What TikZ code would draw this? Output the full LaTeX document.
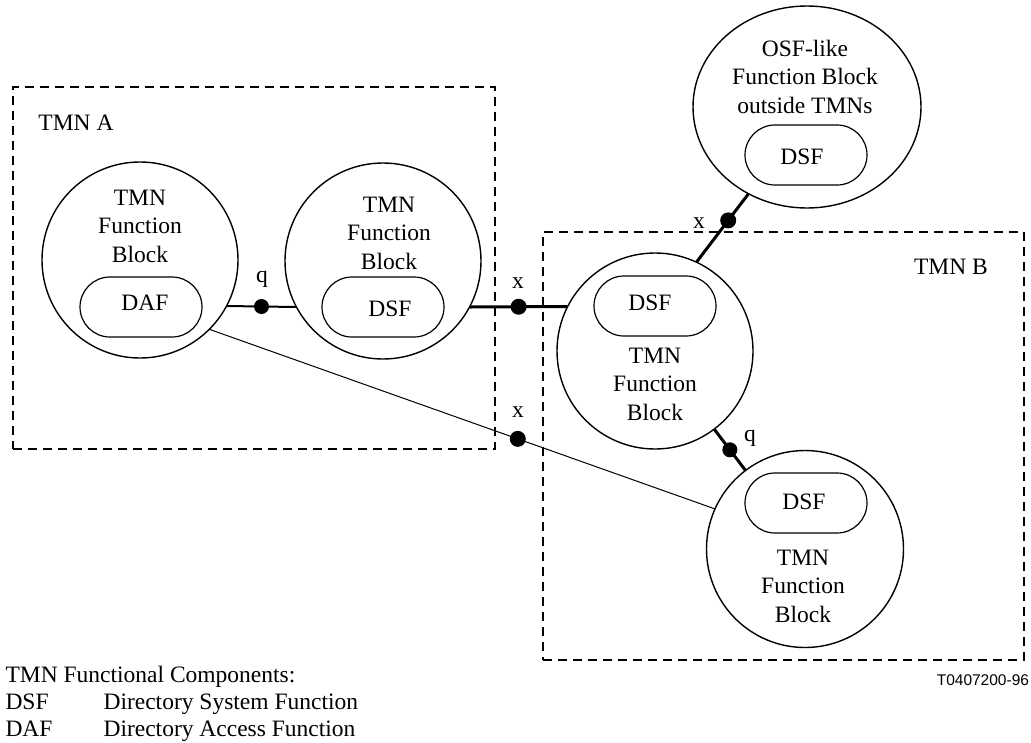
\documentclass[tikz,border=0pt]{standalone}
\usepackage{fontspec}
\setmainfont{Liberation Serif}
\newfontfamily\figsans{Liberation Sans}
\usetikzlibrary{shapes.geometric}
\begin{document}
\begin{tikzpicture}[x=1pt,y=-1pt,
  every node/.style={inner sep=0pt, outer sep=0pt},
  txt/.style={font=\fontsize{23.5}{28.5}\selectfont, align=center},
  tmnbox/.style={draw, line width=1.8pt, dash pattern=on 9pt off 6pt, rectangle},
  fblock/.style={circle, draw, line width=1.4pt, minimum size=196pt},
  osfblock/.style={ellipse, draw, line width=1.4pt, minimum width=228pt, minimum height=202pt},
  pill/.style={rectangle, draw, line width=1.2pt, rounded corners=30pt,
               minimum width=122pt, minimum height=60pt},
  thin link/.style={line width=1pt},
  q link/.style={line width=2pt},
  x link/.style={line width=3pt},
  dot/.style={circle, fill=black, minimum size=16pt},
  small dot/.style={circle, fill=black, minimum size=15pt}
]
\useasboundingbox (0,0) rectangle (1031,742);

% management domains
\node[tmnbox, minimum width=482pt, minimum height=362pt] (tmnA) at (254,268) {};
\node[tmnbox, minimum width=481pt, minimum height=428pt] (tmnB) at (783.5,446) {};
\node[txt] (tmnAlbl) at (76,123) {TMN A};
\node[txt] (tmnBlbl) at (951,267) {TMN B};

% function blocks
\node[fblock] (A1) at (140,260) {};
\node[fblock] (A2) at (383,261) {};
\node[fblock] (B1) at (655,351) {};
\node[fblock, minimum size=197pt] (B2) at (805,549) {};
\node[osfblock] (OSF) at (807,107) {};

% block titles
\node[txt, anchor=north] (A1t) at (140,190) {TMN\\Function\\Block};
\node[txt, anchor=north] (A2t) at (389,197) {TMN\\Function\\Block};
\node[txt, anchor=north] (B1t) at (655,348) {TMN\\Function\\Block};
\node[txt, anchor=north] (B2t) at (803,550) {TMN\\Function\\Block};
\node[txt, anchor=north] (OSFt) at (805,40) {OSF-like\\Function Block\\outside TMNs};

% functional components
\node[pill] (dafA1) at (141,307) {};
\node[txt] at (145,303) {DAF};
\node[pill] (dsfA2) at (383,307) {};
\node[txt] at (390,309) {DSF};
\node[pill] (dsfB1) at (655,306) {};
\node[txt] at (650,303) {DSF};
\node[pill] (dsfB2) at (806,503) {};
\node[txt] at (804,502) {DSF};
\node[pill] (dsfO) at (806,155) {};
\node[txt] at (802,157) {DSF};

% reference points
\draw[q link] (A1.-28.7) -- node[small dot, pos=.5] (qA) {} (A2.208.7);
\draw[x link] (A2.-28) -- node[dot, pos=.5] (xA) {} (B1.153.3);
\draw[thin link] (A1.-45) -- node[dot, pos=.61] (xAB) {} (B2.156);
\draw[x link] (B1.65) -- node[dot, pos=.61] (xO) {} (OSF.236.2);
\draw[x link] (B1) -- node[small dot, pos=.5] (qB) {} (B2);

\node[txt] at (262,279) {q};
\node[txt] at (518,283) {x};
\node[txt] at (518,412) {x};
\node[txt] at (699,223) {x};
\node[txt] at (750,438) {q};

% legend
\begin{scope}[every node/.style={txt, anchor=base west}]
\node (leg0) at (2,682) {TMN Functional Components:};
\node (leg1) at (2,709) {DSF};
\node (leg1d) at (100,709) {Directory System Function};
\node (leg2) at (2,736) {DAF};
\node (leg2d) at (100,736) {Directory Access Function};
\end{scope}
\node[anchor=base east, font=\figsans\fontsize{15.5}{18}\selectfont] (ref) at (1029,685.5) {T0407200-96};
\end{tikzpicture}
\end{document}
